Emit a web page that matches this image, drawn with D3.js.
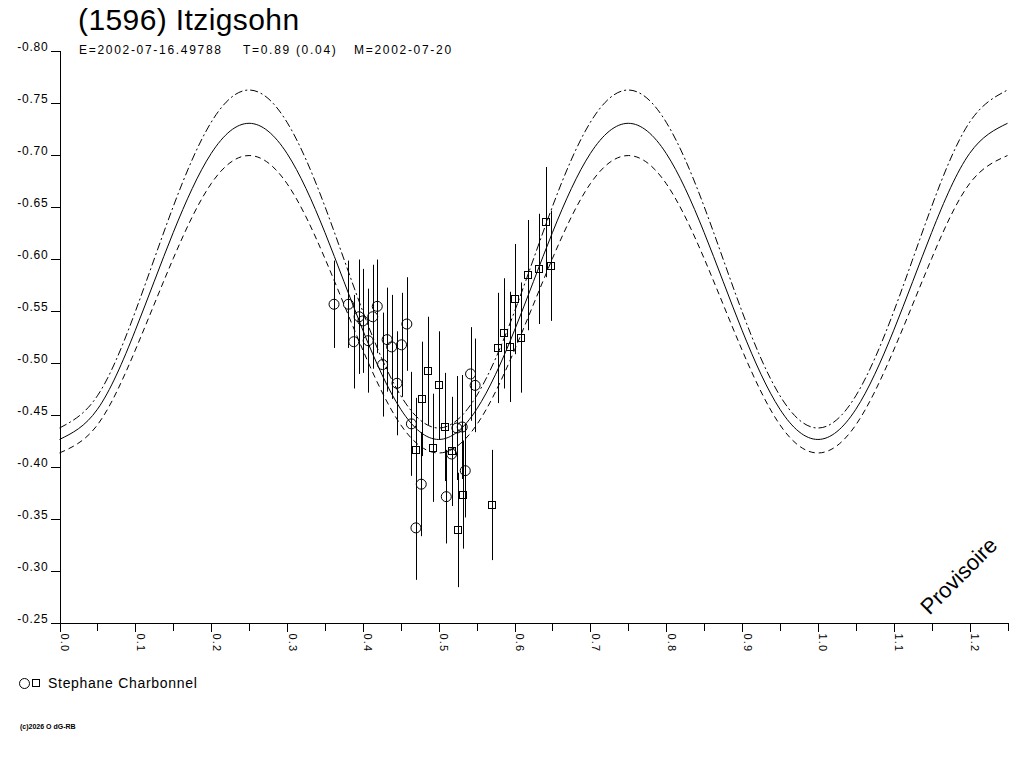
<!DOCTYPE html>
<html>
<head>
<meta charset="utf-8">
<script src="https://cdn.jsdelivr.net/npm/d3@7"></script>
<style>
  body { margin: 0; background: #fff; }
  svg { display: block; font-family: "Liberation Sans", Arial, sans-serif; }
</style>
</head>
<body>
<div id="chart"></div>
<script>
// sampled model curves (phase step 0.05)
const curvePhase = [0.00, 0.05, 0.10, 0.15, 0.20, 0.25, 0.30, 0.35, 0.40, 0.45,
                    0.50, 0.55, 0.60, 0.65, 0.70, 0.75, 0.80, 0.85, 0.90, 0.95,
                    1.00, 1.05, 1.10, 1.15, 1.20, 1.25];
const fitMag = [-0.426, -0.455, -0.531, -0.625, -0.701, -0.730, -0.701, -0.625, -0.531, -0.455,
                -0.426, -0.455, -0.531, -0.625, -0.701, -0.730, -0.701, -0.625, -0.531, -0.455,
                -0.426, -0.455, -0.531, -0.625, -0.701, -0.730];
const fitUpper = [-0.437, -0.468, -0.549, -0.650, -0.731, -0.762, -0.731, -0.650, -0.549, -0.468,
                  -0.437, -0.468, -0.549, -0.650, -0.731, -0.762, -0.731, -0.650, -0.549, -0.468,
                  -0.437, -0.468, -0.549, -0.650, -0.731, -0.762];
const fitLower = [-0.413, -0.440, -0.512, -0.600, -0.672, -0.699, -0.672, -0.600, -0.512, -0.440,
                  -0.413, -0.440, -0.512, -0.600, -0.672, -0.699, -0.672, -0.600, -0.512, -0.440,
                  -0.413, -0.440, -0.512, -0.600, -0.672, -0.699];

// observations, session 1 (circles)
const circlePhase = [0.362, 0.381, 0.388, 0.395, 0.400, 0.407, 0.413, 0.419, 0.426, 0.432,
                     0.438, 0.445, 0.451, 0.458, 0.464, 0.477, 0.470, 0.510, 0.517, 0.524,
                     0.531, 0.535, 0.542, 0.548];
const circleMag = [-0.556, -0.556, -0.520, -0.544, -0.540, -0.521, -0.544, -0.554, -0.498, -0.522,
                   -0.515, -0.480, -0.517, -0.537, -0.441, -0.383, -0.341, -0.371, -0.412, -0.437,
                   -0.438, -0.396, -0.489, -0.478];
const circleErr = [0.042, 0.042, 0.045, 0.055, 0.050, 0.050, 0.050, 0.045, 0.050, 0.050,
                   0.050, 0.050, 0.050, 0.045, 0.050, 0.050, 0.050, 0.045, 0.050, 0.050,
                   0.050, 0.045, 0.045, 0.045];

// observations, session 2 (squares)
const squarePhase = [0.470, 0.478, 0.486, 0.493, 0.501, 0.508, 0.518, 0.525, 0.532, 0.570,
                     0.578, 0.586, 0.594, 0.601, 0.609, 0.618, 0.632, 0.641, 0.648];
const squareMag = [-0.416, -0.465, -0.492, -0.418, -0.478, -0.438, -0.415, -0.339, -0.373, -0.363,
                   -0.514, -0.528, -0.515, -0.561, -0.524, -0.584, -0.590, -0.635, -0.593];
const squareErr = [0.050, 0.055, 0.052, 0.052, 0.052, 0.052, 0.052, 0.055, 0.052, 0.053,
                   0.053, 0.053, 0.053, 0.053, 0.053, 0.053, 0.053, 0.053, 0.053];

const yTicks = [-0.80, -0.75, -0.70, -0.65, -0.60, -0.55, -0.50, -0.45, -0.40, -0.35, -0.30, -0.25];
const xTicks = [0.0, 0.1, 0.2, 0.3, 0.4, 0.5, 0.6, 0.7, 0.8, 0.9, 1.0, 1.1, 1.2];
const xMinor = [0.05, 0.15, 0.25, 0.35, 0.45, 0.55, 0.65, 0.75, 0.85, 0.95, 1.05, 1.15, 1.25];

const width = 1024, height = 768;

const svg = d3.select("#chart").append("svg")
    .attr("width", width)
    .attr("height", height);

svg.append("rect").attr("width", width).attr("height", height).attr("fill", "#fff");

const x = d3.scaleLinear().domain([0, 1.25]).range([59.5, 1007.5]);
const y = d3.scaleLinear().domain([-0.80, -0.25]).range([50.5, 622.5]);

// 标题
svg.append("text")
    .attr("x", 78).attr("y", 30)
    .attr("font-size", 30)
    .attr("letter-spacing", 0.4)
    .text("(1596) Itzigsohn");

const sub = [["E=2002-07-16.49788", 79], ["T=0.89 (0.04)", 243], ["M=2002-07-20", 354]];
svg.selectAll("text.sub")
    .data(sub)
    .enter().append("text")
    .attr("class", "sub")
    .attr("x", d => d[1]).attr("y", 54)
    .attr("font-size", 12)
    .attr("letter-spacing", 1.7)
    .text(d => d[0]);

// y axis, plain hyphen instead of unicode minus
const yAxis = d3.axisLeft(y)
    .tickValues(yTicks)
    .tickSize(9)
    .tickSizeOuter(0)
    .tickFormat(d => d.toFixed(2));

const gy = svg.append("g")
    .attr("transform", "translate(59.5,0)")
    .call(yAxis);
gy.selectAll("text")
    .attr("dy", 0)
    .attr("x", -11)
    .attr("font-size", 12)
    .attr("letter-spacing", 0.8)
    .attr("font-family", "Liberation Sans, Arial, sans-serif")
    .attr("fill", "#000");
gy.select(".domain").attr("stroke", "#000");

// x axis, major ticks with rotated labels
const xAxis = d3.axisBottom(x)
    .tickValues(xTicks)
    .tickSize(9)
    .tickSizeOuter(0)
    .tickFormat(d => d.toFixed(1));

const gx = svg.append("g")
    .attr("transform", "translate(0,622.5)")
    .call(xAxis);
gx.selectAll("text")
    .attr("x", 0).attr("y", 0).attr("dy", null)
    .attr("text-anchor", "start")
    .attr("transform", "translate(1,11) rotate(90)")
    .attr("font-size", 11)
    .attr("letter-spacing", 1.2)
    .attr("font-family", "Liberation Sans, Arial, sans-serif")
    .attr("fill", "#000");

// minor ticks
svg.append("g")
    .attr("transform", "translate(0,622.5)")
    .call(d3.axisBottom(x).tickValues(xMinor).tickSize(8).tickSizeOuter(0).tickFormat(""))
    .select(".domain").remove();

svg.selectAll(".tick line").attr("stroke", "#000").attr("shape-rendering", "crispEdges");
svg.selectAll(".domain").attr("shape-rendering", "crispEdges");

// model curves
const plot = svg.append("g");

function drawCurve(values, dash) {
    const line = d3.line()
        .x((d, i) => x(curvePhase[i]))
        .y(d => y(d))
        .curve(d3.curveNatural);
    plot.append("path")
        .datum(values)
        .attr("d", line)
        .attr("fill", "none")
        .attr("stroke", "#000")
        .attr("stroke-width", 1)
        .attr("stroke-dasharray", dash);
}
drawCurve(fitMag, null);
drawCurve(fitUpper, "8,3,2,3");
drawCurve(fitLower, "6,4");

// error bars
const circles = circlePhase.map((p, i) => ({ p: p, m: circleMag[i], e: circleErr[i] }));
const squares = squarePhase.map((p, i) => ({ p: p, m: squareMag[i], e: squareErr[i] }));

plot.selectAll("line.err")
    .data(circles.concat(squares))
    .enter().append("line")
    .attr("class", "err")
    .attr("x1", d => Math.round(x(d.p)) + 0.5)
    .attr("x2", d => Math.round(x(d.p)) + 0.5)
    .attr("y1", d => y(d.m - d.e))
    .attr("y2", d => y(d.m + d.e))
    .attr("stroke", "#000");

plot.selectAll("circle.obs")
    .data(circles)
    .enter().append("circle")
    .attr("class", "obs")
    .attr("cx", d => x(d.p))
    .attr("cy", d => y(d.m))
    .attr("r", 5)
    .attr("fill", "none")
    .attr("stroke", "#000");

plot.selectAll("rect.obs")
    .data(squares)
    .enter().append("rect")
    .attr("class", "obs")
    .attr("x", d => Math.round(x(d.p)) - 3.5)
    .attr("y", d => Math.round(y(d.m)) - 3.5)
    .attr("width", 7)
    .attr("height", 7)
    .attr("fill", "none")
    .attr("stroke", "#000");

// watermark
svg.append("text")
    .attr("transform", "translate(960,577) rotate(-45)")
    .attr("text-anchor", "middle")
    .attr("dominant-baseline", "middle")
    .attr("font-size", 22)
    .text("Provisoire");

// legend
svg.append("circle").attr("cx", 24.5).attr("cy", 683.5).attr("r", 5)
    .attr("fill", "none").attr("stroke", "#000");
svg.append("rect").attr("x", 32.5).attr("y", 679.5).attr("width", 7).attr("height", 7)
    .attr("fill", "none").attr("stroke", "#000");
svg.append("text")
    .attr("x", 48).attr("y", 688)
    .attr("font-size", 14)
    .attr("letter-spacing", 0.7)
    .text("Stephane Charbonnel");

svg.append("text")
    .attr("x", 20).attr("y", 729)
    .attr("font-size", 7)
    .attr("font-weight", "bold")
    .text("(c)2026 O dG-RB");
</script>
</body>
</html>
